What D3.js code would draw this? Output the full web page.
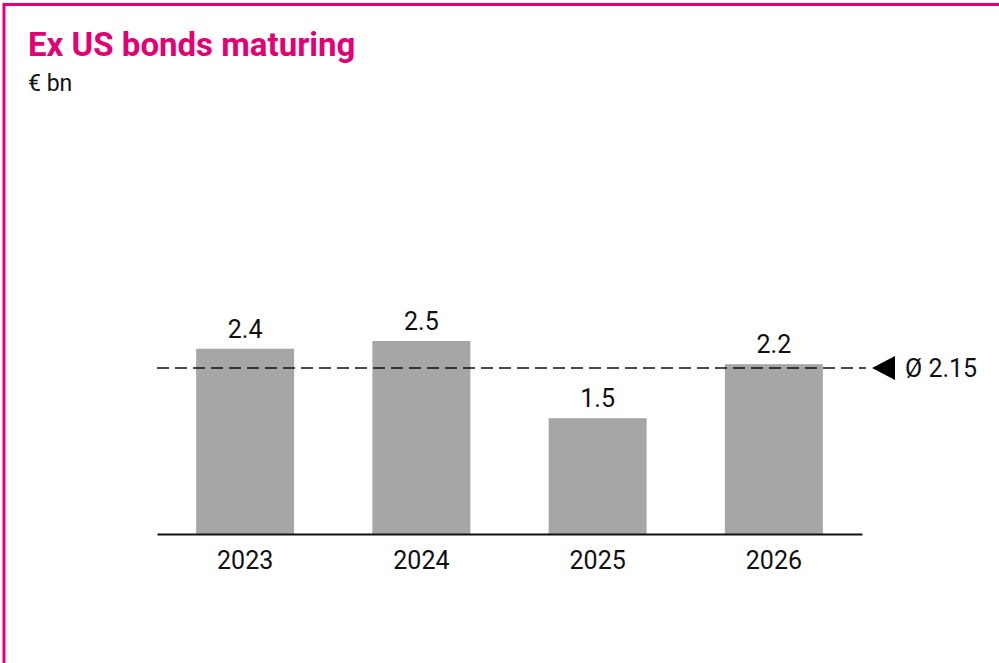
<!DOCTYPE html>
<html>
<head>
<meta charset="utf-8">
<script src="https://cdn.jsdelivr.net/npm/d3@7"></script>
<style>
  html, body { margin: 0; padding: 0; background: #fff; }
  svg { display: block; }
</style>
</head>
<body>
<svg id="chart" width="999" height="663"></svg>
<script>
// Maturities outside the US, € bn
const years = ["2023", "2024", "2025", "2026"];
const values = [2.4, 2.5, 1.5, 2.2];
const average = 2.15;
const averageLabel = "Ø 2.15";

const W = 999, H = 663;
const magenta = "#e20074";
const barColor = "#a6a6a6";
const font = "Roboto, 'Open Sans', sans-serif";

const svg = d3.select("#chart");

// Frame: magenta rule along the top and left edge
svg.append("line")
  .attr("x1", 3).attr("x2", W).attr("y1", 4.5).attr("y2", 4.5)
  .attr("stroke", magenta).attr("stroke-width", 3);
svg.append("line")
  .attr("x1", 4).attr("x2", 4).attr("y1", 3).attr("y2", H)
  .attr("stroke", magenta).attr("stroke-width", 3);

// Title block
svg.append("text")
  .attr("x", 28).attr("y", 56)
  .attr("font-family", font).attr("font-weight", 700)
  .attr("font-size", 33).attr("fill", magenta)
  .text("Ex US bonds maturing");
svg.append("text")
  .attr("x", 28).attr("y", 91)
  .attr("font-family", font).attr("font-size", 23).attr("fill", "#111")
  .text("€ bn");

// Scales
const x = d3.scaleBand().domain(years).range([157, 862])
  .paddingInner(0.444).paddingOuter(0.222);
const y = d3.scaleLinear().domain([0, 2.5]).range([534, 341]);

// Bars
svg.append("g").selectAll("rect")
  .data(years.map((yr, i) => ({ yr, v: values[i] })))
  .join("rect")
  .attr("x", d => x(d.yr))
  .attr("y", d => y(d.v))
  .attr("width", x.bandwidth())
  .attr("height", d => y(0) - y(d.v))
  .attr("fill", barColor);

// Value labels
svg.append("g").selectAll("text")
  .data(years.map((yr, i) => ({ yr, v: values[i] })))
  .join("text")
  .attr("x", d => x(d.yr) + x.bandwidth() / 2)
  .attr("y", d => y(d.v) - 11)
  .attr("text-anchor", "middle")
  .attr("font-family", font).attr("font-size", 25).attr("fill", "#111")
  .text(d => d.v.toFixed(1));

// Category axis
const axis = svg.append("g")
  .attr("transform", `translate(0,${y(0)})`)
  .call(d3.axisBottom(x).tickSize(0).tickPadding(17));
axis.select(".domain").attr("stroke", "#111").attr("stroke-width", 2);
axis.selectAll("text")
  .attr("font-family", font).attr("font-size", 25).attr("fill", "#111");

// Average line with marker
const yAvg = y(average);
svg.append("line")
  .attr("x1", 157).attr("x2", 866)
  .attr("y1", yAvg).attr("y2", yAvg)
  .attr("stroke", "#111").attr("stroke-width", 1.5)
  .attr("stroke-dasharray", "12,6");
svg.append("path")
  .attr("d", `M872,${yAvg} L895,${yAvg - 12} L895,${yAvg + 12} Z`)
  .attr("fill", "#000");
svg.append("text")
  .attr("x", 905).attr("y", yAvg + 9)
  .attr("font-family", font).attr("font-size", 25).attr("fill", "#111")
  .text(averageLabel);
</script>
</body>
</html>
